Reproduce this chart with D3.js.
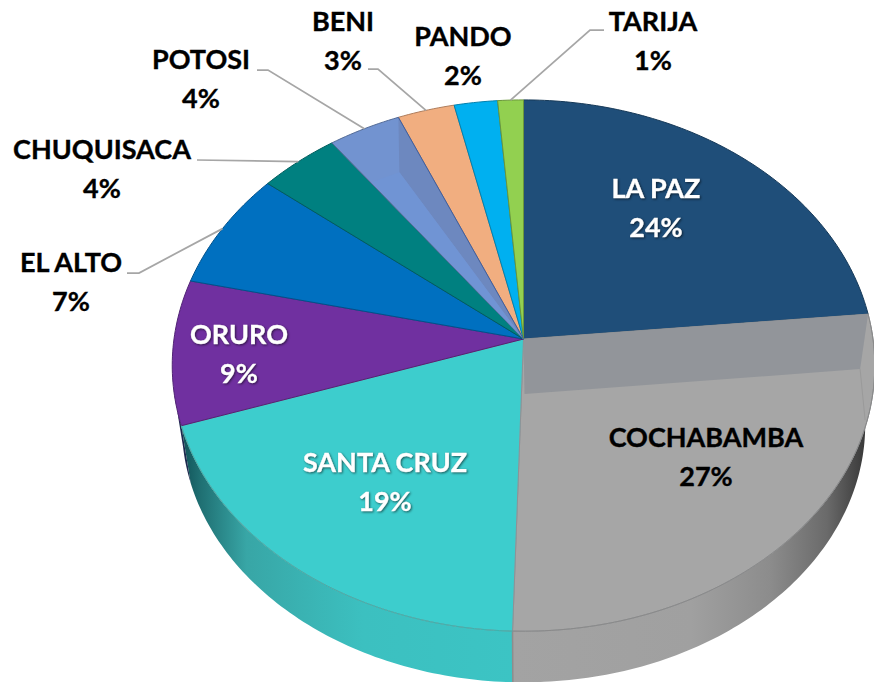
<!DOCTYPE html>
<html><head><meta charset="utf-8">
<script src="https://cdn.jsdelivr.net/npm/d3@7/dist/d3.min.js"></script>
<style>
html,body{margin:0;padding:0;background:#fff;overflow:hidden}
svg{display:block}
text{font-family:Lato,Carlito,"Open Sans",sans-serif;font-weight:700;text-anchor:middle;stroke:currentColor;stroke-width:.35px}
.lit{filter:drop-shadow(1px 1.5px 1px rgba(0,0,0,.55))}
</style></head><body>
<svg id="c" width="874" height="682"></svg>
<script>
// Data, clockwise from twelve o'clock
const categories=["LA PAZ","COCHABAMBA","SANTA CRUZ","ORURO","EL ALTO","CHUQUISACA","POTOSI","BENI","PANDO","TARIJA"];
const values=[23.5,27,19.4,8.8,7.2,4.1,3.7,2.9,2.2,1.3];
const percentLabels=["24%","27%","19%","9%","7%","4%","4%","3%","2%","1%"];
// Styles and layout
const colors=["#1f4e79","#a6a6a6","#3dcdcd","#7030a0","#0070c0","#008080","#7293d0","#f1ae80","#00b0f0","#92d050"];
const textFill=["#fff","#000","#fff","#fff","#000","#000","#000","#000","#000","#000"];
const labelX=[656,706,385,239,71,102,201,343,463,653];
const labelY=[189,438,463,335,263,150,60,22,37,22];
const leaderElbowX=[null,null,null,null,139,null,268,378,null,590];
const leaderElbowY=[null,null,null,null,273,null,70,69,null,30];
const leaderStartX=[null,null,null,null,127,197,257,368,null,604];
const leaderStartY=[null,null,null,null,273,160,70,69,null,30];

const top_={cx:523.5,cy:339,rx:349.5,ry:263,k:.1};
const low={cx:523.5,cy:399,rx:340,ry:255,k:.1};
function project(t,g,r=1){const u=Math.sin(t)*r,v=-Math.cos(t)*r,w=1-g.k*v;return [g.cx+g.rx*u/w,g.cy+g.ry*v/w];}
function arcPts(a,b,g){const n=Math.max(4,Math.ceil(Math.abs(b-a)*60));return d3.range(n+1).map(i=>project(a+(b-a)*i/n,g));}
const line=d3.line();
const svg=d3.select("#c"),defs=svg.append("defs");
const pie=d3.pie().sort(null).value(d=>d)(values);

function grad(id,x1,x2,stops){const g=defs.append("linearGradient").attr("id",id).attr("gradientUnits","userSpaceOnUse")
  .attr("x1",x1).attr("x2",x2).attr("y1",0).attr("y2",0);
  stops.forEach(s=>g.append("stop").attr("offset",s[0]).attr("stop-color",s[1]));return `url(#${id})`;}
const grayWall=grad("gw",513,870,[[0,"#a3a3a3"],[.5,"#a0a0a0"],[.72,"#8c8c8c"],[.88,"#6a6a6a"],[.96,"#454545"],[1,"#333"]]);
const tealWall=grad("tw",180,513,[[0,"#0f4f55"],[.06,"#1f6f72"],[.2,"#38a6a6"],[.55,"#3cc0c0"],[1,"#3cc4c4"]]);

// side wall
function wall(a,b,fill){svg.append("path").attr("d",line(arcPts(a,b,top_).concat(arcPts(a,b,low).reverse()))+"Z").attr("fill",fill);}
wall(pie[1].startAngle,pie[1].endAngle,grayWall);
wall(pie[2].startAngle,pie[3].startAngle,tealWall);
wall(pie[3].startAngle,pie[3].startAngle+.14,"#1c2a4e");
// seam between walls
svg.append("line").attr("x1",project(pie[1].endAngle,top_)[0]).attr("y1",project(pie[1].endAngle,top_)[1])
 .attr("x2",project(pie[1].endAngle,low)[0]).attr("y2",project(pie[1].endAngle,low)[1]).attr("stroke","#8d8d8d").attr("stroke-width",1.5);

// top faces
const ctr=[top_.cx,top_.cy];
const slicePath=d=>line([ctr].concat(arcPts(d.startAngle,d.endAngle,top_)))+"Z";
svg.selectAll("path.s").data(pie).join("path").attr("class","s").attr("d",slicePath)
 .attr("fill",(d,i)=>colors[i]).attr("stroke",(d,i)=>i==1||i==2?"#8f9296":d3.color(colors[i]).darker(.9)).attr("stroke-width",1).attr("stroke-linejoin","round");

// bevel facets
const cp=defs.append("clipPath").attr("id","cg");cp.append("path").attr("d",slicePath(pie[1]));
const e=project(pie[1].startAngle,top_);
svg.append("path").attr("clip-path","url(#cg)").attr("fill","#92959a")
 .attr("d",line([ctr,e,[e[0]-8,e[1]+55],[ctr[0]+1,ctr[1]+55]])+"Z");
svg.append("path").attr("fill","none").attr("stroke","#9a9a9a")
 .attr("d",line([[e[0]-8,e[1]+55],[e[0]-3,e[1]+106]]));
svg.append("path").attr("d",line(arcPts(pie[1].startAngle,pie[1].endAngle,top_))).attr("fill","none").attr("stroke","#8a8a8a").attr("stroke-width",1);
svg.append("path").attr("d",line(arcPts(pie[2].startAngle,pie[2].endAngle,top_))).attr("fill","none").attr("stroke","#39b5b0").attr("stroke-width",1);
const b=project(pie[6].endAngle,top_);
svg.append("path").attr("fill","#6d88bf").attr("d",line([ctr,b,[b[0]+1,b[1]+55]])+"Z");
svg.append("path").attr("fill","#7094d4").attr("d",line([ctr,[b[0]+1,b[1]+55],[b[0]-27,b[1]+65]])+"Z");
svg.append("line").attr("x1",ctr[0]).attr("y1",ctr[1]).attr("x2",b[0]).attr("y2",b[1]).attr("stroke","#3f5f9f");

// leaders
categories.forEach((c,i)=>{
  if(leaderStartX[i]==null)return;
  const m=project((pie[i].startAngle+pie[i].endAngle)/2,top_);
  const pts=[[leaderStartX[i],leaderStartY[i]]];
  if(leaderElbowX[i]!=null)pts.push([leaderElbowX[i],leaderElbowY[i]]);
  pts.push(m);
  svg.append("path").attr("d",line(pts)).attr("fill","none").attr("stroke","#a6a6a6").attr("stroke-width",1.75);
});

// labels
categories.forEach((c,i)=>{
  const g=svg.append("g").attr("class",textFill[i]=="#fff"?"lit":null).attr("fill",textFill[i]).attr("color",textFill[i]).attr("font-size",27);
  g.append("text").attr("x",labelX[i]).attr("y",labelY[i]).attr("dy",".35em").text(c);
  g.append("text").attr("x",labelX[i]).attr("y",labelY[i]+38.5).attr("dy",".35em").text(percentLabels[i]);
});
</script></body></html>
